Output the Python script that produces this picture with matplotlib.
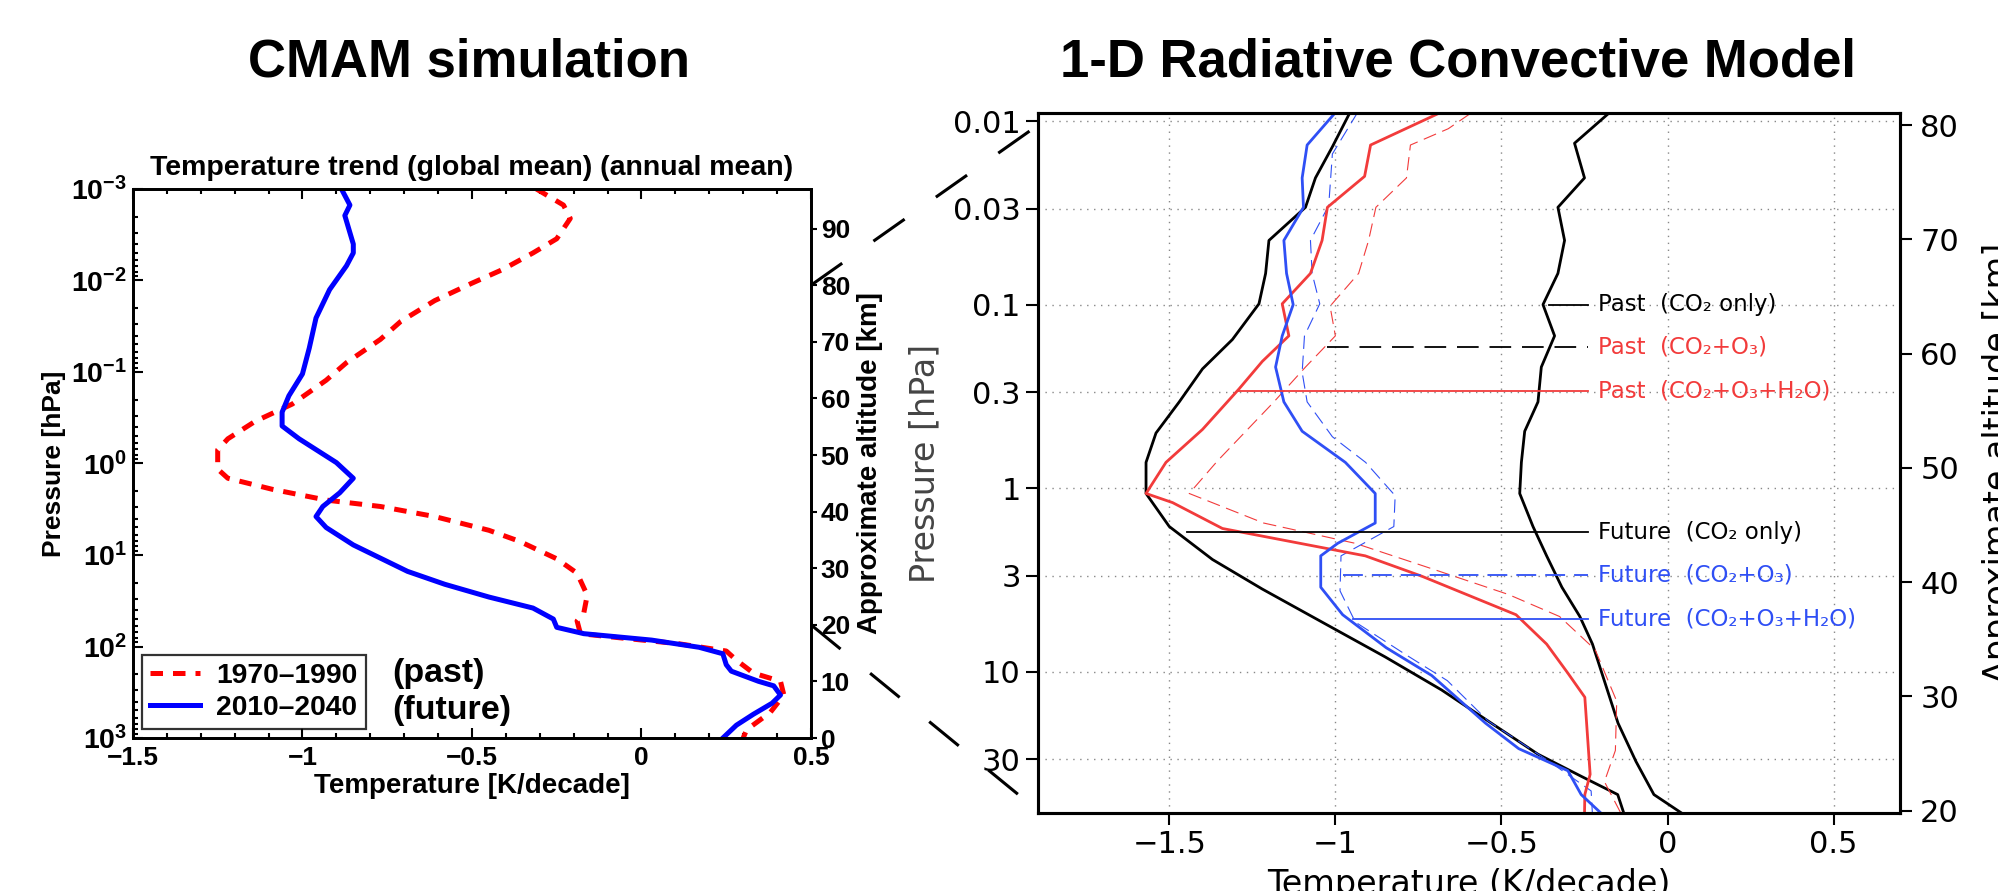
import numpy as np
import matplotlib
matplotlib.use('Agg')
import matplotlib.pyplot as plt
from matplotlib.patches import ConnectionPatch
from matplotlib.ticker import MultipleLocator, NullLocator

plt.rcParams['mathtext.fontset'] = 'custom'
plt.rcParams['mathtext.rm'] = 'Liberation Sans'
plt.rcParams['mathtext.bf'] = 'Liberation Sans:bold'

# ---- CMAM simulation (left panel) ----
past_T = [-0.31, -0.23, -0.21, -0.25, -0.32, -0.41, -0.50, -0.61, -0.71, -0.77,
          -0.87, -0.93, -1.03, -1.14, -1.22, -1.25, -1.25, -1.22, -1.09, -0.93,
          -0.77, -0.61, -0.45, -0.36, -0.25, -0.19, -0.16, -0.17, -0.19, -0.18,
          -0.05, 0.11, 0.25, 0.28, 0.33, 0.41, 0.42, 0.38, 0.31, 0.30]
past_p = [0.001, 0.0015, 0.0021, 0.0035, 0.005, 0.0076, 0.0107, 0.0166, 0.028, 0.044,
          0.079, 0.123, 0.224, 0.347, 0.537, 0.708, 1.15, 1.45, 1.91, 2.51,
          2.95, 3.80, 5.37, 7.08, 11.0, 15.8, 27.5, 42.7, 52.5, 72.4,
          81.3, 93.3, 112, 141, 195, 240, 339, 525, 813, 1000]

future_T = [-0.885, -0.86, -0.875, -0.85, -0.85, -0.87, -0.92, -0.96, -0.98, -1.00,
            -1.04, -1.06, -1.06, -1.01, -0.90, -0.85, -0.89, -0.94, -0.96, -0.93,
            -0.85, -0.69, -0.58, -0.45, -0.32, -0.26, -0.25, -0.17, 0.03, 0.17,
            0.24, 0.25, 0.265, 0.345, 0.39, 0.41, 0.385, 0.33, 0.28, 0.24]
future_p = [0.001, 0.0015, 0.00195, 0.0040, 0.0050, 0.0069, 0.0126, 0.0257, 0.055, 0.105,
            0.182, 0.275, 0.389, 0.537, 0.977, 1.45, 2.09, 2.95, 3.80, 5.01,
            7.76, 15.1, 20.9, 28.8, 38.0, 50.1, 61.7, 72.4, 85.1, 102,
            120, 158, 186, 240, 269, 339, 417, 550, 724, 1000]

cmam_xticks = [-1.5, -1, -0.5, 0, 0.5]
cmam_xticklabels = ['\u22121.5', '\u22121', '\u22120.5', '0', '0.5']
cmam_yticks = [1e-3, 1e-2, 1e-1, 1e0, 1e1, 1e2, 1e3]
cmam_yticklabels = [r'$\mathbf{10^{-3}}$', r'$\mathbf{10^{-2}}$', r'$\mathbf{10^{-1}}$',
                    r'$\mathbf{10^{0}}$', r'$\mathbf{10^{1}}$', r'$\mathbf{10^{2}}$',
                    r'$\mathbf{10^{3}}$']
cmam_alt_ticks = [0, 10, 20, 30, 40, 50, 60, 70, 80, 90]

# ---- 1-D radiative convective model (right panel) ----
blk_a_T = [-0.955, -1.009, -1.06, -1.09, -1.20, -1.21, -1.23, -1.31, -1.40, -1.47,
           -1.54, -1.57, -1.57, -1.50, -1.37, -1.22, -1.03, -0.85, -0.68, -0.54,
           -0.39, -0.26, -0.15, -0.13]
blk_a_p = [0.0089, 0.0138, 0.0204, 0.0295, 0.0447, 0.0676, 0.099, 0.155, 0.224, 0.339,
           0.501, 0.724, 1.07, 1.62, 2.45, 3.55, 5.50, 8.32, 12.6, 18.6,
           28.2, 37.2, 46.8, 60.3]

blk_b_T = [-0.172, -0.23, -0.28, -0.25, -0.33, -0.31, -0.33, -0.375, -0.34, -0.38,
           -0.39, -0.43, -0.44, -0.445, -0.405, -0.364, -0.318, -0.264, -0.226, -0.187,
           -0.149, -0.095, -0.041, 0.05]
blk_b_p = [0.0089, 0.011, 0.0132, 0.0204, 0.0295, 0.0447, 0.0676, 0.1, 0.148, 0.219,
           0.339, 0.49, 0.724, 1.07, 1.62, 2.34, 3.47, 5.01, 7.08, 11.7,
           19.1, 30.9, 46.8, 60.3]

red_T = [-0.679, -0.894, -0.912, -1.024, -1.04, -1.075, -1.16, -1.14, -1.22, -1.29,
         -1.40, -1.51, -1.57, -1.49, -1.34, -0.91, -0.74, -0.456, -0.364, -0.30,
         -0.249, -0.233, -0.249, -0.25]
red_p = [0.0089, 0.0135, 0.02, 0.0295, 0.0447, 0.0676, 0.099, 0.148, 0.204, 0.288,
         0.479, 0.724, 1.07, 1.20, 1.66, 2.34, 3.02, 4.90, 7.08, 10.2,
         13.8, 36.3, 46.8, 60.3]

red_d_T = [-0.594, -0.66, -0.774, -0.786, -0.878, -0.90, -0.93, -1.016, -1.0, -1.09,
           -1.185, -1.354, -1.44, -1.216, -0.94, -0.71, -0.479, -0.325, -0.218, -0.153,
           -0.157, -0.19, -0.138]
red_d_p = [0.0091, 0.011, 0.0135, 0.0204, 0.0295, 0.0447, 0.0676, 0.102, 0.148, 0.219,
           0.339, 0.708, 1.07, 1.55, 2.0, 2.75, 3.80, 5.01, 7.59, 14.5,
           26.9, 39.8, 60.3]

blue_T = [-0.998, -1.085, -1.10, -1.096, -1.155, -1.147, -1.127, -1.16, -1.18, -1.155,
          -1.10, -0.97, -0.88, -0.88, -0.993, -1.044, -1.044, -0.978, -0.847, -0.71,
          -0.548, -0.448, -0.30, -0.26, -0.195]
blue_p = [0.0089, 0.0135, 0.0204, 0.0295, 0.0447, 0.0676, 0.1, 0.148, 0.219, 0.339,
          0.49, 0.724, 1.07, 1.55, 2.0, 2.34, 3.47, 4.90, 7.41, 10.5,
          19.1, 26.3, 34.7, 46.8, 60.3]

blue_d_T = [-0.932, -1.009, -1.02, -1.075, -1.07, -1.047, -1.093, -1.10, -1.085, -1.009,
            -0.909, -0.82, -0.824, -0.983, -0.986, -0.94, -0.786, -0.663, -0.54, -0.356,
            -0.23, -0.226]
blue_d_p = [0.0089, 0.0151, 0.0288, 0.0447, 0.0676, 0.099, 0.148, 0.234, 0.339, 0.525,
            0.724, 1.10, 1.62, 2.34, 3.63, 5.37, 8.13, 11.2, 18.6, 30.9,
            44.7, 60.3]

rc_xticks = [-1.5, -1, -0.5, 0, 0.5]
rc_xticklabels = ['\u22121.5', '\u22121', '\u22120.5', '0', '0.5']
rc_yticks = [0.01, 0.03, 0.1, 0.3, 1, 3, 10, 30]
rc_yticklabels = ['0.01', '0.03', '0.1', '0.3', '1', '3', '10', '30']
rc_alt_ticks = [20, 30, 40, 50, 60, 70, 80]

# key entries drawn inside the right panel
key_labels = ['Past  (CO\u2082 only)', 'Past  (CO\u2082+O\u2083)', 'Past  (CO\u2082+O\u2083+H\u2082O)',
              'Future  (CO\u2082 only)', 'Future  (CO\u2082+O\u2083)', 'Future  (CO\u2082+O\u2083+H\u2082O)']
key_p = [0.1, 0.171, 0.296, 1.74, 2.98, 5.14]
key_T_start = [-0.356, -1.024, -1.293, -1.446, -0.978, -0.947]
key_T_end = -0.24

RED = '#f23b3b'
BLUE = '#2f4ff5'
key_line_colors = ['black', 'black', RED, 'black', BLUE, BLUE]
key_line_styles = ['-', (0, (12, 6)), '-', '-', (0, (11, 5)), '-']
key_text_colors = ['black', RED, RED, 'black', BLUE, BLUE]

fig = plt.figure(figsize=(19.99, 8.91), dpi=100)

# ================= left panel =================
bold = dict(family='Liberation Sans', weight='bold')
ax = fig.add_axes([0.0665, 0.1717, 0.3392, 0.6162])
ax.plot(past_T, past_p, color='red', lw=3.6, ls=(0, (2.5, 2)), label='1970\u20131990')
ax.plot(future_T, future_p, color='blue', lw=3.6, label='2010\u20132040')
ax.set_yscale('log')
ax.set_ylim(1e3, 1e-3)
ax.set_xlim(-1.5, 0.5)
ax.set_xticks(cmam_xticks)
ax.set_xticklabels(cmam_xticklabels, fontsize=19, **bold)
ax.set_yticks(cmam_yticks)
ax.set_yticklabels(cmam_yticklabels, fontsize=20.5)
ax.xaxis.set_minor_locator(MultipleLocator(0.1))
ax.tick_params(which='both', direction='in', top=True, right=True, width=1.5)
ax.tick_params(which='major', length=7, pad=6)
ax.tick_params(axis='y', which='major', pad=4)
ax.tick_params(which='minor', length=3.5)
for s in ax.spines.values():
    s.set_linewidth(2)
ax.set_xlabel('Temperature [K/decade]', fontsize=20, labelpad=2, **bold)
ax.set_ylabel('Pressure [hPa]', fontsize=19, labelpad=4, **bold)
ax.set_title('Temperature trend (global mean) (annual mean)', fontsize=20.5, pad=10, **bold)

leg = ax.legend(loc='lower left', bbox_to_anchor=(0.013, 0.016), prop=dict(size=20.3, **bold),
                frameon=True, fancybox=False, edgecolor='black', handlelength=1.75,
                handletextpad=0.6, labelspacing=0.2, borderpad=0.3, borderaxespad=0)
leg.get_frame().set_linewidth(1.6)
ax.text(0.383, 0.118, '(past)', transform=ax.transAxes, fontsize=24.5, va='center', **bold)
ax.text(0.383, 0.050, '(future)', transform=ax.transAxes, fontsize=24.5, va='center', **bold)

ax_alt = ax.twinx()
ax_alt.set_ylim(0, 97)
ax_alt.set_yticks(cmam_alt_ticks)
ax_alt.set_yticklabels([str(v) for v in cmam_alt_ticks], fontsize=19, **bold)
ax_alt.tick_params(direction='out', length=4, width=1.5, pad=3)
ax_alt.set_ylabel('Approximate altitude [km]', fontsize=20, labelpad=5, **bold)
for s in ax_alt.spines.values():
    s.set_linewidth(2)

fig.text(0.2346, 0.930, 'CMAM simulation', fontsize=38, ha='center', va='center', **bold)
fig.text(0.7295, 0.930, '1-D Radiative Convective Model', fontsize=38, ha='center', va='center', **bold)

# ================= right panel =================
light = dict(family='DejaVu Sans')
axr = fig.add_axes([0.5193, 0.0875, 0.4312, 0.7856])
axr.set_yscale('log')
axr.plot(blk_a_T, blk_a_p, color='black', lw=2.0)
axr.plot(blk_b_T, blk_b_p, color='black', lw=2.0)
axr.plot(red_d_T, red_d_p, color=RED, lw=0.8, ls=(0, (12, 6)))
axr.plot(blue_d_T, blue_d_p, color=BLUE, lw=0.8, ls=(0, (12, 6)))
axr.plot(red_T, red_p, color=RED, lw=2.0)
axr.plot(blue_T, blue_p, color=BLUE, lw=2.0)

for lab, p, t0, lc, ls, tc in zip(key_labels, key_p, key_T_start, key_line_colors,
                                  key_line_styles, key_text_colors):
    axr.plot([t0, key_T_end], [p, p], color=lc, ls=ls, lw=1.3)
    axr.text(key_T_end + 0.03, p, lab, color=tc, fontsize=16.5, va='center', ha='left', **light)

axr.set_xlim(-1.895, 0.70)
axr.set_ylim(59, 0.00904)
axr.set_xticks(rc_xticks)
axr.set_xticklabels(rc_xticklabels, fontsize=22, **light)
axr.set_yticks(rc_yticks)
axr.set_yticklabels(rc_yticklabels, fontsize=22, **light)
axr.yaxis.set_minor_locator(NullLocator())
axr.tick_params(direction='out', length=8.5, width=1.5, pad=4)
axr.grid(True, which='major', ls=(0, (1, 4)), color='#888888', lw=1.0)
for s in axr.spines.values():
    s.set_linewidth(2.2)
axr.set_xlabel('Temperature (K/decade)', fontsize=24, labelpad=6, **light)
axr.set_ylabel('Pressure [hPa]', fontsize=24, color='#444444', labelpad=8, **light)

axr_alt = axr.twinx()
axr_alt.set_ylim(19.8, 81.05)
axr_alt.set_yticks(rc_alt_ticks)
axr_alt.set_yticklabels([str(v) for v in rc_alt_ticks], fontsize=22, **light)
axr_alt.tick_params(direction='out', length=8.5, width=1.5, pad=6)
for s in axr_alt.spines.values():
    s.set_linewidth(2.2)
fig.text(1982 / 1999, 0.48, 'Approximate altitude [km]', rotation=90, fontsize=24,
         ha='left', va='center', **light)

# dashed zoom lines between the two panels (80 km and 20 km)
for alt in (80, 20):
    con = ConnectionPatch(xyA=(0.5, alt), coordsA='data', axesA=ax_alt,
                          xyB=(-1.895, alt), coordsB='data', axesB=axr_alt,
                          color='black', lw=2.2, linestyle=(0, (12.5, 12.5)),
                          capstyle='butt')
    fig.add_artist(con)

fig.savefig('out.png', dpi=100)
